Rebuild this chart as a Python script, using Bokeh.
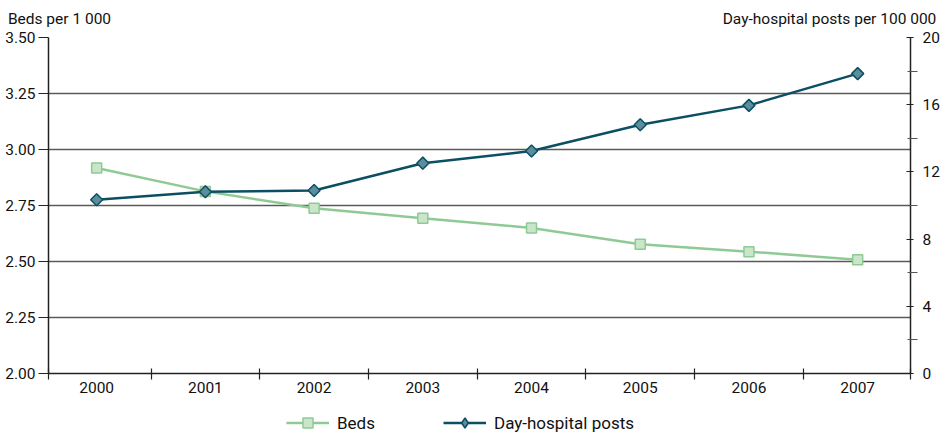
import math
from bokeh.plotting import figure
from bokeh.layouts import column
from bokeh.models import (Range1d, LinearAxis, FixedTicker, PrintfTickFormatter,
                          Legend, LegendItem)
from bokeh.embed import file_html
from bokeh.resources import INLINE

years = ["2000", "2001", "2002", "2003", "2004", "2005", "2006", "2007"]
beds = [2.917, 2.813, 2.738, 2.693, 2.650, 2.577, 2.544, 2.508]
day_posts = [10.34, 10.82, 10.89, 12.52, 13.24, 14.81, 15.96, 17.85]
left_ticks = [2.00, 2.25, 2.50, 2.75, 3.00, 3.25, 3.50]
right_ticks = [0, 4, 8, 12, 16, 20]
right_minor = [2, 6, 10, 14, 18]
left_title = "Beds per 1 000"
right_title = "Day-hospital posts per 100 000"
series_names = ["Beds", "Day-hospital posts"]

FONT = "Roboto"
BEDS_LINE = "#8fca95"
BEDS_FILL = "#c9e6ca"
DAY_LINE = "#0b4f63"
DAY_FILL = "#5b8d9a"
GRID = "#5a5a5a"
AX = "#222222"
TXT = "#111111"

X0, X1 = -0.443, 7.486
xs = list(range(len(years)))

p = figure(width=942, height=400, output_backend="svg", toolbar_location=None,
           x_range=Range1d(X0, X1), y_range=Range1d(2.0, 3.5),
           min_border_left=48, min_border_right=32, min_border_top=37,
           min_border_bottom=27, y_axis_location=None, x_axis_location=None)
p.outline_line_color = None
p.background_fill_color = "white"
p.border_fill_color = "white"
p.extra_y_ranges = {"day": Range1d(0, 20)}
# pixel-like helper range used only to place the two axis titles above the frame
p.extra_x_ranges = {"title": Range1d(48, 910)}

# bottom axis (categories at integer positions, boundary ticks in between)
xaxis = LinearAxis(ticker=FixedTicker(ticks=xs,
                                      minor_ticks=[X0 + 0.0005] + [i + 0.5 for i in xs[:-1]] + [X1 - 0.0005]),
                   major_label_overrides={i: y for i, y in zip(xs, years)})
xaxis.major_tick_line_color = None
xaxis.major_tick_out = 0
xaxis.major_tick_in = 0
xaxis.minor_tick_in = 5
xaxis.minor_tick_out = 6
xaxis.minor_tick_line_color = AX
xaxis.minor_tick_line_width = 1.2
xaxis.axis_line_color = AX
xaxis.axis_line_width = 1.5
xaxis.major_label_standoff = 2
xaxis.major_label_text_font = FONT
xaxis.major_label_text_font_size = "15.5px"
xaxis.major_label_text_color = TXT
p.add_layout(xaxis, "below")

# left axis
yaxis = LinearAxis(ticker=FixedTicker(ticks=left_ticks),
                   formatter=PrintfTickFormatter(format="%.2f"))
yaxis.major_tick_out = 10
yaxis.major_tick_in = 0
yaxis.major_tick_line_color = AX
yaxis.major_tick_line_width = 1.2
yaxis.minor_tick_line_color = None
yaxis.axis_line_color = AX
yaxis.axis_line_width = 1.5
yaxis.major_label_standoff = 3
yaxis.major_label_text_font = FONT
yaxis.major_label_text_font_size = "15.5px"
yaxis.major_label_text_color = TXT
p.add_layout(yaxis, "left")

# right axis
raxis = LinearAxis(y_range_name="day",
                   ticker=FixedTicker(ticks=right_ticks, minor_ticks=right_minor))
raxis.major_tick_out = 3
raxis.major_tick_in = 4
raxis.minor_tick_out = 7
raxis.minor_tick_in = 3
raxis.major_tick_line_color = AX
raxis.minor_tick_line_color = "#555555"
raxis.major_tick_line_width = 1.2
raxis.minor_tick_line_width = 1.2
raxis.axis_line_color = AX
raxis.axis_line_width = 1.5
raxis.major_label_standoff = 5
raxis.major_label_text_font = FONT
raxis.major_label_text_font_size = "15.5px"
raxis.major_label_text_color = TXT
p.add_layout(raxis, "right")

# axis titles, written as labels of an invisible axis above the frame
taxis = LinearAxis(x_range_name="title", ticker=FixedTicker(ticks=[59, 829]),
                   major_label_overrides={59: left_title, 829: right_title})
taxis.axis_line_color = None
taxis.major_tick_line_color = None
taxis.minor_tick_line_color = None
taxis.major_tick_out = 0
taxis.major_tick_in = 0
taxis.major_label_standoff = 10
taxis.major_label_text_font = FONT
taxis.major_label_text_font_size = "15.5px"
taxis.major_label_text_color = TXT
p.add_layout(taxis, "above")

p.ygrid.ticker = FixedTicker(ticks=left_ticks)
p.ygrid.grid_line_color = GRID
p.ygrid.grid_line_width = 1.5
p.xgrid.grid_line_color = None

BEDS_MARK = dict(marker="square", size=10, fill_color=BEDS_FILL,
                 line_color=BEDS_LINE, line_width=1.5)
DAY_MARK = dict(marker="square", angle=math.pi / 4, size=8.5, fill_color=DAY_FILL,
                line_color=DAY_LINE, line_width=1.5)
DAY_LEGEND_MARK = dict(marker="diamond", size=12, fill_color=DAY_FILL,
                       line_color=DAY_LINE, line_width=1.5)

# series
p.line(xs, beds, line_color=BEDS_LINE, line_width=2.5)
p.scatter(xs, beds, **BEDS_MARK)
p.line(xs, day_posts, y_range_name="day", line_color=DAY_LINE, line_width=2.5)
p.scatter(xs, day_posts, y_range_name="day", **DAY_MARK)

# legend strip below the chart (its own series lie outside its visible range)
q = figure(width=942, height=32, output_backend="svg", toolbar_location=None,
           x_range=Range1d(0, 1), y_range=Range1d(100, 101),
           min_border_left=0, min_border_right=0, min_border_top=0,
           min_border_bottom=0, x_axis_location=None, y_axis_location=None)
q.outline_line_color = None
q.grid.grid_line_color = None
q.background_fill_color = "white"
q.border_fill_color = "white"
l1 = q.line(xs, beds, line_color=BEDS_LINE, line_width=2.5)
m1 = q.scatter(xs, beds, **BEDS_MARK)
l2 = q.line(xs, day_posts, line_color=DAY_LINE, line_width=2.5)
m2 = q.scatter(xs, day_posts, **DAY_LEGEND_MARK)
legend = Legend(items=[LegendItem(label=series_names[0], renderers=[l1, m1]),
                       LegendItem(label=series_names[1], renderers=[l2, m2])],
                orientation="horizontal", location=(238, -3),
                padding=0, spacing=68, glyph_width=43, glyph_height=25,
                label_height=25, label_standoff=8, border_line_color=None,
                background_fill_alpha=0, label_text_font=FONT,
                label_text_font_size="17px", label_text_color=TXT, margin=0)
q.add_layout(legend, "center")

open("out.html", "w").write(file_html(column(p, q, spacing=0), INLINE))
